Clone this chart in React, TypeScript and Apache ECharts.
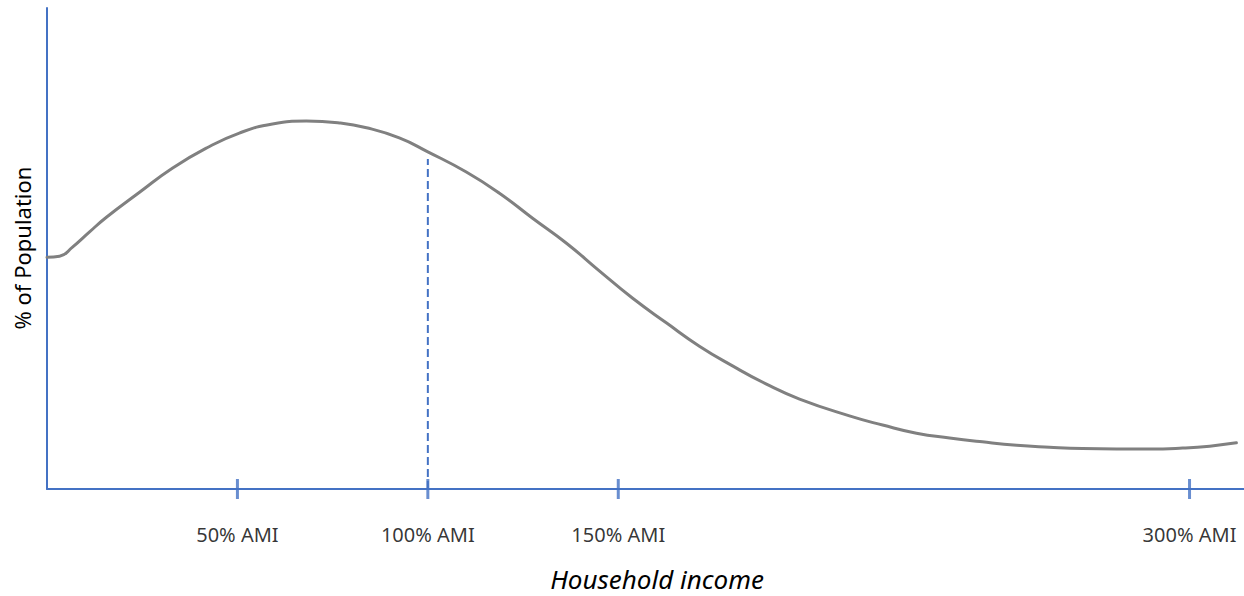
import React, { useEffect, useRef } from "react";
import * as echarts from "echarts";

// Household income as % of AMI (x) and relative share of population (y, arbitrary 0-100 scale)
const incomePct = [0, 3.3, 6.7, 11.1, 15.6, 24.3, 32.9, 41.9, 50.5, 59.2, 68.1, 76.8, 83.9, 92.5, 100, 110.1, 118.8, 127.5, 136.4, 145.1, 153.7, 162.7, 171.3, 180.0, 188.9, 197.6, 210.7, 219.4, 228.3, 237.0, 245.6, 254.6, 263.2, 271.9, 280.8, 289.5, 298.2, 305.3, 312.3];
const population = [48.2, 48.4, 50.3, 53.4, 56.5, 61.7, 66.7, 70.9, 74.0, 75.9, 76.5, 76.1, 75.1, 73.0, 70.1, 65.9, 61.5, 56.3, 51.1, 45.3, 39.7, 34.5, 29.7, 25.6, 21.8, 18.7, 15.2, 13.3, 11.6, 10.6, 9.8, 9.1, 8.7, 8.4, 8.3, 8.3, 8.5, 8.9, 9.6];

const tickValues = [50, 100, 150, 300];
const tickLabels = ["50% AMI", "100% AMI", "150% AMI", "300% AMI"];

const markerX = 100;
const markerTop = 68.6;

const xMax = 314.3;
const yMax = 100;

export default function App() {
  const ref = useRef<HTMLDivElement>(null);

  useEffect(() => {
    if (!ref.current) return;
    const chart = echarts.init(ref.current, null, { renderer: "svg" });
    const blue = "#4472C4";
    const font = "'Noto Sans', 'Open Sans', sans-serif";
    chart.setOption({
      animation: false,
      grid: { left: 47, right: 0, top: 8, bottom: 107 },
      xAxis: {
        type: "value",
        min: 0,
        max: xMax,
        axisLine: { show: true, lineStyle: { color: blue, width: 2 } },
        axisTick: { show: false },
        axisLabel: { show: false },
        splitLine: { show: false },
      },
      yAxis: {
        type: "value",
        min: 0,
        max: yMax,
        axisLine: { show: true, lineStyle: { color: blue, width: 2 } },
        axisTick: { show: false },
        axisLabel: { show: false },
        splitLine: { show: false },
      },
      series: [
        {
          type: "line",
          data: [
            [markerX, 0],
            [markerX, markerTop],
          ],
          symbol: "none",
          lineStyle: { color: blue, width: 2, type: [8, 4] },
          z: 1,
        },
        {
          type: "line",
          data: incomePct.map((x, i) => [x, population[i]]),
          smooth: 0.5,
          symbol: "none",
          lineStyle: { color: "#808080", width: 3, cap: "round" },
          z: 2,
        },
        {
          type: "scatter",
          data: tickValues.map((v, i) => ({ value: [v, 0], name: tickLabels[i] })),
          symbol: "rect",
          symbolSize: [3, 20],
          clip: false,
          itemStyle: { color: blue },
          label: {
            show: true,
            position: "bottom",
            distance: 25,
            formatter: (p: any) => p.name,
            color: "#000",
            fontSize: 20,
            fontFamily: font,
          },
          z: 3,
        },
      ],
      graphic: [
        {
          type: "text",
          x: 657,
          y: 579,
          style: {
            text: "Household income",
            fontSize: 26,
            fontStyle: "italic",
            fontFamily: font,
            fill: "#000",
            align: "center",
            verticalAlign: "middle",
          },
        },
        {
          type: "text",
          x: 22,
          y: 248,
          rotation: Math.PI / 2,
          style: {
            text: "% of Population",
            fontSize: 22,
            fontFamily: font,
            fill: "#000",
            align: "center",
            verticalAlign: "middle",
          },
        },
      ],
    });
    return () => chart.dispose();
  }, []);

  return (
    <div
      ref={ref}
      style={{ position: "fixed", left: 0, top: 0, width: 1244, height: 596, background: "#fff" }}
    />
  );
}
